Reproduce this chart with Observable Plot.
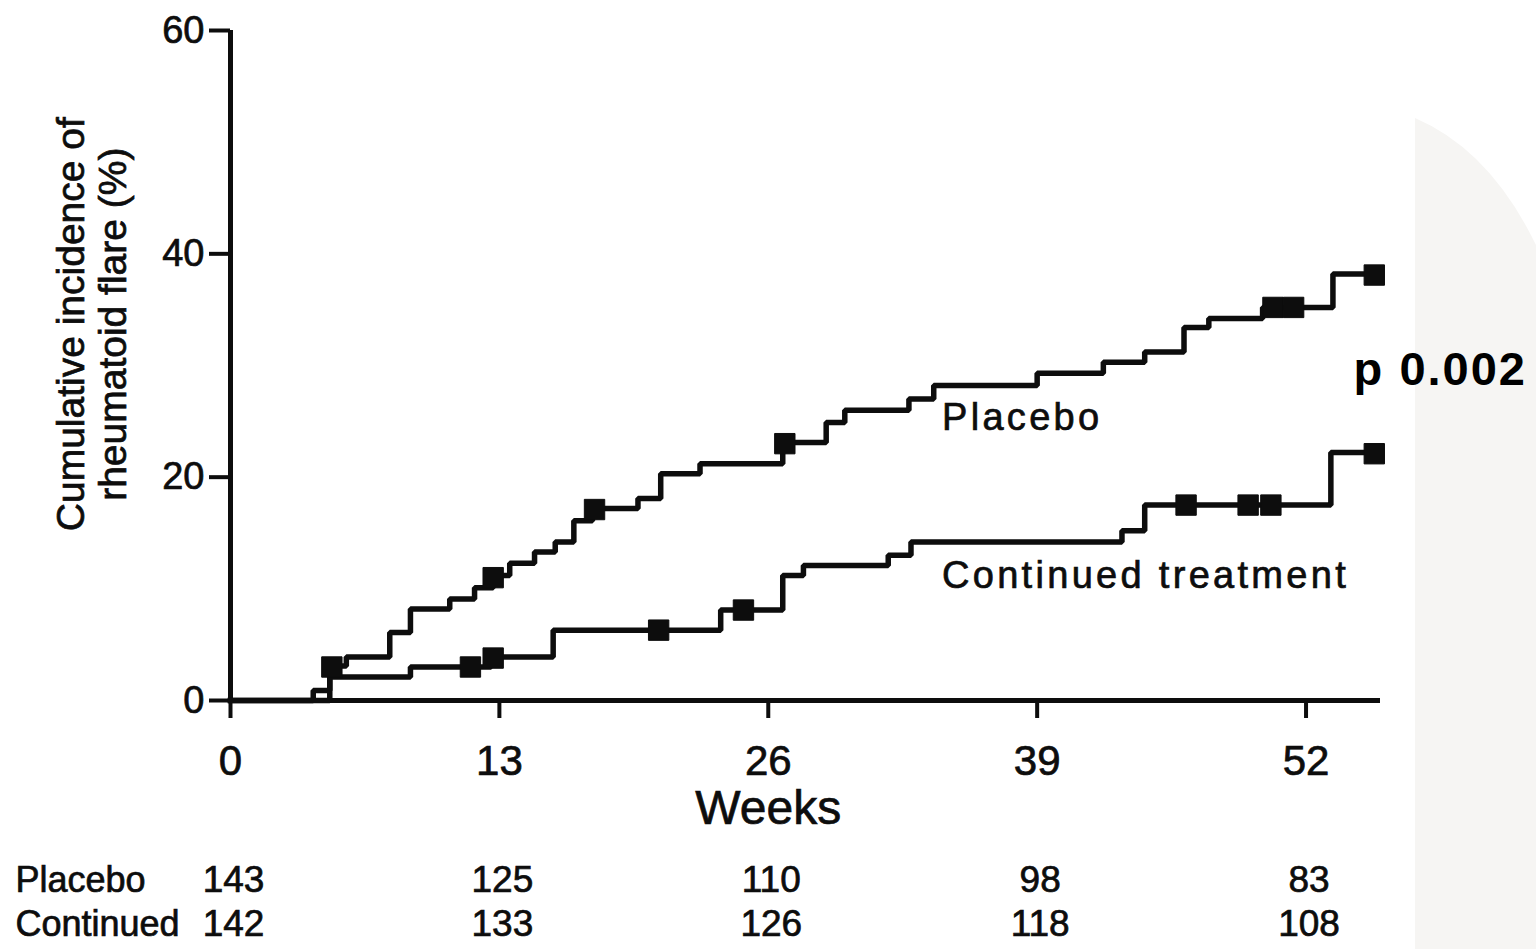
<!DOCTYPE html>
<html>
<head>
<meta charset="utf-8">
<script src="https://cdn.jsdelivr.net/npm/d3@7"></script>
<script src="https://cdn.jsdelivr.net/npm/@observablehq/plot@0.6"></script>
<style>
html, body { margin: 0; padding: 0; background: #fff; }
#wrap { position: relative; width: 1536px; height: 949px; overflow: hidden; }
#bg { position: absolute; left: 0; top: 0; }
#chart { position: absolute; left: 0; top: 0; }
</style>
</head>
<body>
<div id="wrap">
  <svg id="bg" width="1536" height="949"><path d="M1415,118 Q1490,150 1536,245 L1536,949 L1415,949 Z" fill="#f6f5f3"/></svg>
  <div id="chart"></div>
</div>
<script>
// ---- Data (weeks, cumulative incidence %) ----
const placeboWeeks = [0, 4.0, 4.8, 5.6, 7.7, 8.7, 10.6, 11.8, 12.7, 13.5, 14.7, 15.7, 16.6, 17.5, 19.7, 20.8, 22.7, 26.7, 28.8, 29.7, 32.8, 34.0, 39.0, 42.2, 44.2, 46.1, 47.3, 49.9, 53.3, 55.3];
const placeboPct   = [0, 0.9, 3.1, 3.9, 6.1, 8.2, 9.1, 10.1, 11.2, 12.3, 13.3, 14.2, 16.1, 17.2, 18.1, 20.3, 21.2, 23.1, 24.9, 26.0, 27.0, 28.2, 29.3, 30.3, 31.2, 33.4, 34.2, 35.2, 38.2, 38.2];

const continuedWeeks = [0, 4.8, 8.7, 12.6, 15.6, 23.7, 26.7, 27.7, 31.8, 32.9, 43.1, 44.2, 53.2, 55.3];
const continuedPct   = [0, 2.1, 3.0, 3.9, 6.3, 8.1, 11.2, 12.1, 13.0, 14.2, 15.2, 17.5, 22.2, 22.2];

// censoring marks
const placeboCensorWeeks = [4.9, 12.7, 17.6, 26.8, 50.4, 51.4, 55.3];
const placeboCensorPct   = [3.0, 11.0, 17.1, 23.0, 35.2, 35.2, 38.1];
const continuedCensorWeeks = [11.6, 12.7, 20.7, 24.8, 46.2, 49.2, 50.3, 55.3];
const continuedCensorPct   = [3.0, 3.8, 6.3, 8.1, 17.5, 17.5, 17.5, 22.1];

// axes
const xTicks = [0, 13, 26, 39, 52];
const yTicks = [0, 20, 40, 60];

// numbers at risk
const riskWeeks = [0, 13, 26, 39, 52];
const riskPlacebo = [143, 125, 110, 98, 83];
const riskContinued = [142, 133, 126, 118, 108];
const riskGroups = ["Placebo", "Continued"];

const seriesNames = ["Placebo", "Continued treatment"];
const pValue = "p 0.002";

// ---- Build tables ----
const placebo = placeboWeeks.map((w, i) => ({week: w, pct: placeboPct[i]}));
const continued = continuedWeeks.map((w, i) => ({week: w, pct: continuedPct[i]}));
const censors = [
  ...placeboCensorWeeks.map((w, i) => ({week: w, pct: placeboCensorPct[i]})),
  ...continuedCensorWeeks.map((w, i) => ({week: w, pct: continuedCensorPct[i]}))
];

const ink = "#0d0d0d";
const font = "'Liberation Sans', Arial, Helvetica, sans-serif";

const chart = Plot.plot({
  width: 1536,
  height: 949,
  marginLeft: 230,
  marginRight: 156,
  marginTop: 30,
  marginBottom: 249,
  style: {fontFamily: font, background: "transparent", color: ink, overflow: "visible"},
  x: {domain: [0, 55.6]},
  y: {domain: [0, 60]},
  marks: [
    Plot.axisY({ticks: yTicks, tickSize: 21, tickPadding: 5, fontSize: 38, strokeWidth: 4, label: null, stroke: ink}),
    Plot.axisX({ticks: xTicks, tickSize: 18, tickPadding: 27, fontSize: 42, strokeWidth: 4, label: null, stroke: ink}),
    Plot.ruleX([0], {stroke: ink, strokeWidth: 5}),
    Plot.ruleY([0], {stroke: ink, strokeWidth: 5}),
    Plot.line(placebo, {x: "week", y: "pct", curve: "step-after", stroke: ink, strokeWidth: 5.5, strokeLinejoin: "miter", strokeLinecap: "square"}),
    Plot.line(continued, {x: "week", y: "pct", curve: "step-after", stroke: ink, strokeWidth: 5.5, strokeLinejoin: "miter", strokeLinecap: "square"}),
    Plot.dot(censors, {x: "week", y: "pct", symbol: "square", r: 11.5, fill: ink, stroke: ink, strokeWidth: 1, strokeLinejoin: "round"}),
    // series labels (text groups 0 and 1)
    Plot.text([seriesNames[0]], {x: () => 34.4, y: () => 25.3, textAnchor: "start", fontSize: 38, fill: ink}),
    Plot.text([seriesNames[1]], {x: () => 34.4, y: () => 11.2, textAnchor: "start", fontSize: 38, fill: ink}),
    // p-value (text group 2)
    Plot.text([pValue], {x: () => 54.3, y: () => 29.6, textAnchor: "start", fontSize: 47, fontWeight: "bold", fill: "#000", fontFamily: "Arial, 'Liberation Sans', sans-serif"}),
    // axis titles
    Plot.text(["Weeks"], {x: () => 26, y: () => 0, dy: 108, fontSize: 48, fill: ink}),
    Plot.text(["Cumulative incidence of\nrheumatoid flare (%)"], {frameAnchor: "left", y: () => 33.7, dx: -139, rotate: -90, textAnchor: "middle", fontSize: 39, lineHeight: 1.08, fill: ink}),
    // numbers at risk
    Plot.text([riskGroups[0]], {frameAnchor: "left", y: () => 0, dx: -215, dy: 180, textAnchor: "start", fontSize: 36, fill: ink}),
    Plot.text([riskGroups[1]], {frameAnchor: "left", y: () => 0, dx: -215, dy: 224, textAnchor: "start", fontSize: 36, fill: ink}),
    Plot.text(riskWeeks, {x: d => d, y: () => 0, text: (d, i) => String(riskPlacebo[i]), dy: 180, dx: 3, fontSize: 37, fill: ink}),
    Plot.text(riskWeeks, {x: d => d, y: () => 0, text: (d, i) => String(riskContinued[i]), dy: 224, dx: 3, fontSize: 37, fill: ink})
  ]
});

// letter spacing for the in-plot series labels and the p-value
const textGroups = d3.select(chart).selectAll('g[aria-label="text"]').nodes();
d3.select(textGroups[0]).selectAll("text").attr("letter-spacing", 3.3);
d3.select(textGroups[1]).selectAll("text").attr("letter-spacing", 3.3);
d3.select(textGroups[2]).selectAll("text").attr("letter-spacing", 2);
// slightly heavier text, like the printed figure
d3.select(chart).selectAll("text").each(function () {
  if (this.parentNode === textGroups[2]) return;
  this.style.stroke = ink;
  this.style.strokeWidth = "0.7px";
});

document.getElementById("chart").appendChild(chart);
</script>
</body>
</html>
